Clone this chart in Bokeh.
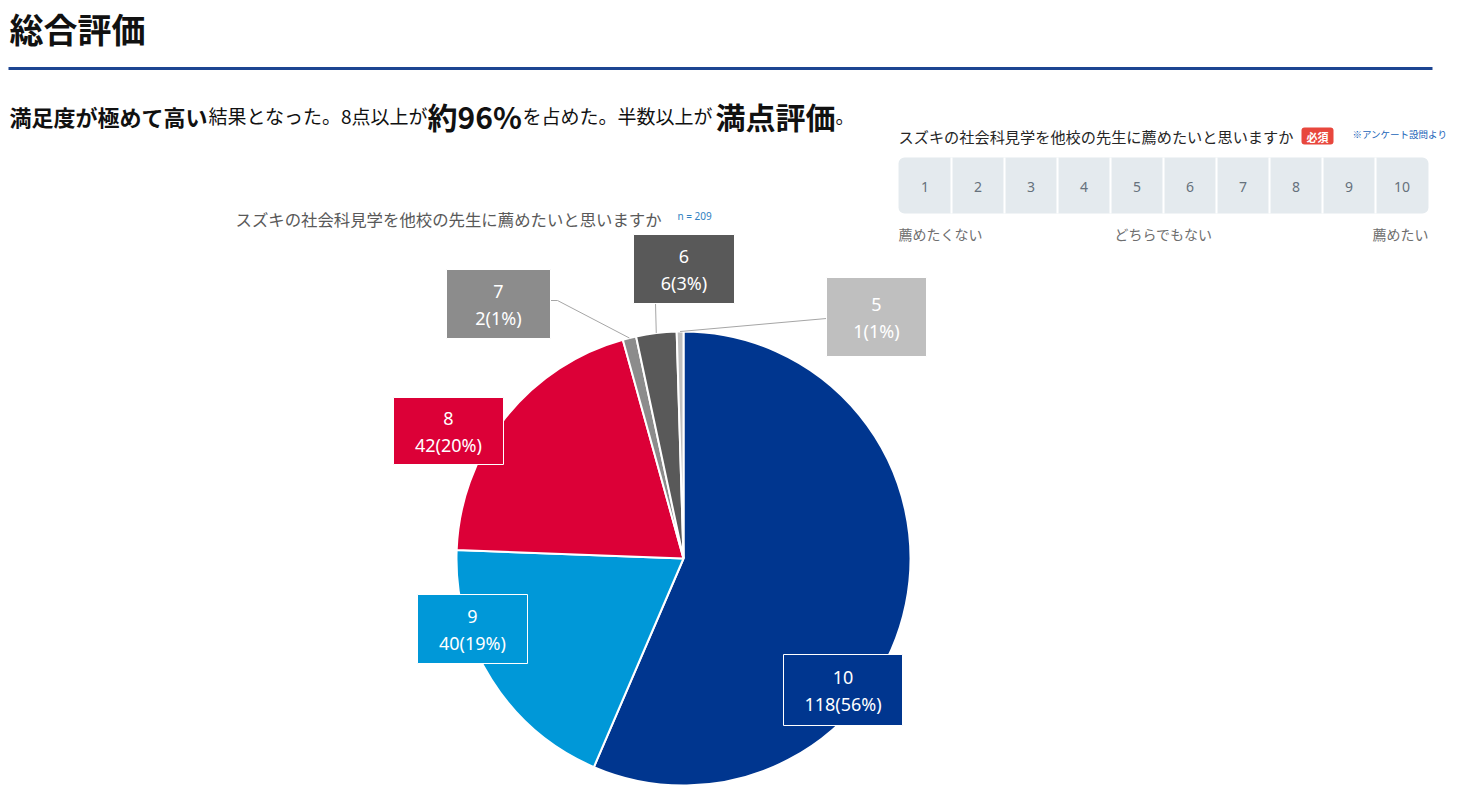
import numpy as np
from bokeh.plotting import figure
from bokeh.models import Range1d, ColumnDataSource, BoxAnnotation
from bokeh.core.properties import value
from bokeh.embed import file_html
from bokeh.resources import INLINE

# ---------------- data ----------------
page_title = "総合評価"
chart_title = "スズキの社会科見学を他校の先生に薦めたいと思いますか"
n_label = "n = 209"
categories = ["10", "9", "8", "7", "6", "5"]
counts = [118, 40, 42, 2, 6, 1]
pct_labels = [56, 19, 20, 1, 3, 1]
slice_colors = ["#00368f", "#0098d8", "#dc0037", "#8c8c8c", "#595959", "#bfbfbf"]
scale_points = [1, 2, 3, 4, 5, 6, 7, 8, 9, 10]
scale_anchor_labels = ["薦めたくない", "どちらでもない", "薦めたい"]
question_text = "スズキの社会科見学を他校の先生に薦めたいと思いますか"
badge_text = "必須"
source_note = "※アンケート設問より"
summary_segments = ["満足度が極めて高い", "結果となった。8点以上が", "約96%",
                    "を占めた。半数以上が", "満点評価", "。"]

# ---------------- layout ----------------
W, H = 1452, 795
JP = value("Noto Sans CJK JP")


def X(px):
    return px


def Y(py):
    return H - py


p = figure(width=W, height=H, x_range=Range1d(0, W), y_range=Range1d(0, H),
           output_backend="svg", toolbar_location=None,
           x_axis_location=None, y_axis_location=None,
           min_border=0, outline_line_color=None)
p.grid.visible = False
p.background_fill_color = "white"
p.border_fill_color = "white"

# page heading
p.text(x=[X(9)], y=[Y(28)], text=[page_title], text_font=JP,
       text_font_size=value("34px"), text_font_style="bold",
       text_color="#111111", text_baseline="middle", text_align="left")
p.line(x=[X(8), X(1432)], y=[Y(68), Y(68)], line_width=3, line_color="#1c4592")

# summary sentence (mixed sizes, shared baseline)
seg_style = [("22px", "bold"), ("19px", "normal"), ("30px", "bold"),
             ("19px", "normal"), ("30px", "bold"), ("19px", "normal")]
seg_x = [9, 208, 427, 522, 715, 835]
for t, (fs, st), sx in zip(summary_segments, seg_style, seg_x):
    p.text(x=[X(sx)], y=[Y(115)], text=[t], text_font=JP,
           text_font_size=value(fs), text_font_style=st, text_color="#111111",
           text_baseline="alphabetic", text_align="left")

# ---------------- right panel: questionnaire ----------------
p.text(x=[X(898)], y=[Y(135)], text=[question_text], text_font=JP,
       text_font_size=value("15.2px"), text_color="#262626",
       text_baseline="middle", text_align="left")
badge = BoxAnnotation(left=X(1301), right=X(1333), top=Y(127), bottom=Y(144),
                      fill_color="#e8473d", fill_alpha=1, line_color=None,
                      border_radius=3, level="underlay")
p.add_layout(badge)
p.text(x=[X(1317)], y=[Y(136)], text=[badge_text], text_font=JP,
       text_font_size=value("11px"), text_font_style="bold", text_color="white",
       text_baseline="middle", text_align="center")
p.text(x=[X(1352)], y=[Y(133)], text=[source_note], text_font=JP,
       text_font_size=value("9.5px"), text_color="#1a64b8",
       text_baseline="middle", text_align="left")

sc_left, sc_right, sc_top, sc_bot = 898, 1428, 157, 213
cell = (sc_right - sc_left) / len(scale_points)
scale_bg = BoxAnnotation(left=X(sc_left), right=X(sc_right), top=Y(sc_top), bottom=Y(sc_bot),
                         fill_color="#e4eaee", fill_alpha=1, line_color=None,
                         border_radius=6, level="underlay")
p.add_layout(scale_bg)
sep_x = [X(sc_left + cell * k) for k in range(1, len(scale_points))]
p.segment(x0=sep_x, y0=[Y(sc_top)] * len(sep_x), x1=sep_x, y1=[Y(sc_bot)] * len(sep_x),
          line_color="white", line_width=2)
num_x = [X(sc_left + cell * (i + 0.5)) for i in range(len(scale_points))]
p.text(x=num_x, y=[Y(186)] * len(num_x), text=[str(s) for s in scale_points],
       text_font=value("Noto Sans"), text_font_size=value("14px"), text_color="#66717c",
       text_baseline="middle", text_align="center")
p.text(x=[X(898), X(1163), X(1428)], y=[Y(233)] * 3, text=scale_anchor_labels,
       text_font=JP, text_font_size=value("14px"), text_color="#6e6e6e",
       text_baseline="middle", text_align=["left", "center", "right"])

# ---------------- pie chart ----------------
p.text(x=[X(235)], y=[Y(218)], text=[chart_title], text_font=JP,
       text_font_size=value("16.4px"), text_color="#595959",
       text_baseline="middle", text_align="left")
p.text(x=[X(677)], y=[Y(215)], text=[n_label], text_font=value("Noto Sans"),
       text_font_size=value("10px"), text_color="#2f7fc1",
       text_baseline="middle", text_align="left")

cx, cy, R = X(683), Y(558), 227
cnt = np.array(counts, dtype=float)
frac = cnt / cnt.sum()
cum = np.cumsum(frac)
start = np.pi / 2 - 2 * np.pi * (cum - frac)
end = np.pi / 2 - 2 * np.pi * cum
pie_src = ColumnDataSource(dict(cat=categories, start=start, end=end, color=slice_colors))
p.wedge(x=cx, y=cy, radius=R, start_angle="start", end_angle="end", direction="clock",
        fill_color="color", line_color="white", line_width=2, source=pie_src)

# leader lines for the small slices
mid = (start + end) / 2
tip_x = cx + R * np.cos(mid)
tip_y = cy + R * np.sin(mid)
leader_start = {"7": [(550, 300), (557, 300)], "6": [(655, 303)], "5": [(826, 318)]}
lxs, lys = [], []
for i, c in enumerate(categories):
    if c in leader_start:
        pts = leader_start[c]
        lxs.append([X(a) for a, b in pts] + [tip_x[i]])
        lys.append([Y(b) for a, b in pts] + [tip_y[i]])
p.multi_line(xs=lxs, ys=lys, line_color="#a6a6a6", line_width=1)

# label boxes (screen centre, width, height)
box_layout = {"10": (842.5, 689.5, 119, 71), "9": (472, 628.5, 110, 69),
              "8": (448, 430.5, 110, 67), "7": (498, 303.5, 104, 69),
              "6": (683.5, 268.5, 101, 69), "5": (876, 316.5, 100, 79)}
bx = [X(box_layout[c][0]) for c in categories]
by = [Y(box_layout[c][1]) for c in categories]
bw = [box_layout[c][2] for c in categories]
bh = [box_layout[c][3] for c in categories]
p.rect(x=bx, y=by, width=bw, height=bh, fill_color=slice_colors,
       line_color="white", line_width=1)
line1 = categories
line2 = [f"{n}({q}%)" for n, q in zip(counts, pct_labels)]
p.text(x=bx, y=[v + 13 for v in by], text=line1, text_font=value("Noto Sans"),
       text_font_size=value("18px"), text_color="white",
       text_baseline="middle", text_align="center")
p.text(x=bx, y=[v - 14 for v in by], text=line2, text_font=value("Noto Sans"),
       text_font_size=value("18px"), text_color="white",
       text_baseline="middle", text_align="center")

open("out.html", "w").write(file_html(p, INLINE))
